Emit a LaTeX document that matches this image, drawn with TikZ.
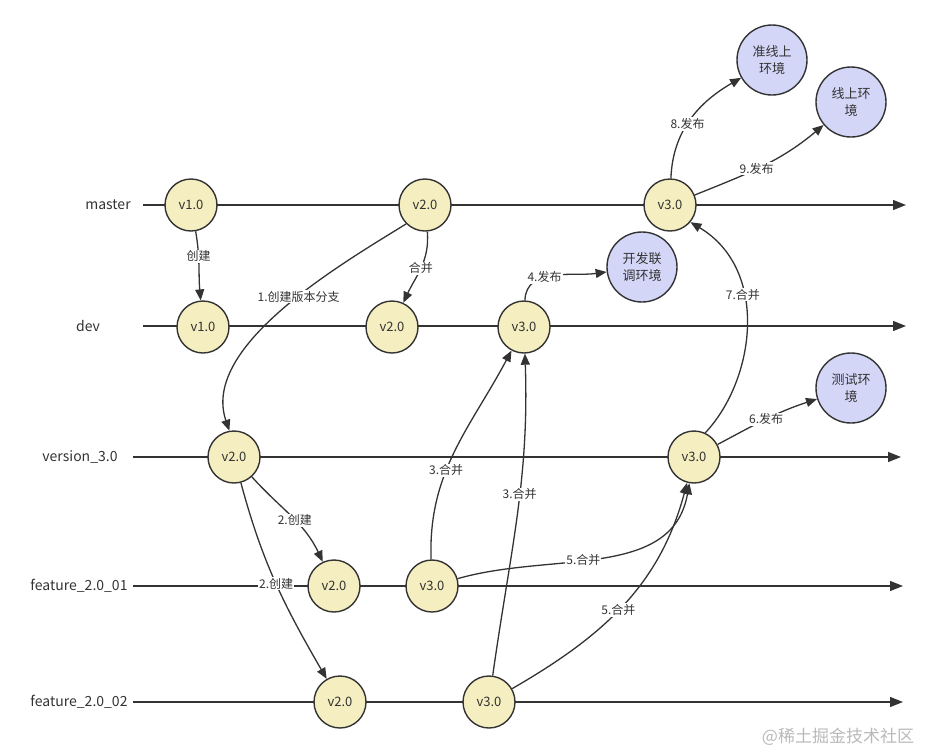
\documentclass[tikz,border=0pt]{standalone}
\usepackage{fontspec}
\setmainfont{Noto Sans CJK SC}
\usetikzlibrary{arrows.meta,positioning}
\definecolor{gitline}{HTML}{333333}
\definecolor{gityellow}{HTML}{F5EEC0}
\definecolor{gitblue}{HTML}{D4D6F8}

\begin{document}
\begin{tikzpicture}[x=1pt,y=1pt,line width=1.3pt,
      every node/.style={font=\fontsize{12}{14}\selectfont,text=gitline},
      ver/.style={circle,draw=gitline,fill=gityellow,minimum size=52pt,inner sep=0pt,line width=1.4pt,font=\fontsize{13}{15}\selectfont},
      env/.style={circle,draw=gitline,fill=gitblue,minimum size=70pt,inner sep=0pt,align=center,line width=1.4pt,font=\fontsize{13}{17}\selectfont},
      branch/.style={font=\fontsize{14}{16}\selectfont},
      trunk/.style={draw=gitline,-{Triangle[length=13pt,width=10pt]}},
      flow/.style={draw=gitline,-{Triangle[length=11pt,width=9pt]}},
      lbl/.style={fill=white,inner sep=1pt}]
    \useasboundingbox (0,0) rectangle (927,-753);
    % Branch names and time lines
    \node[branch] (lmaster) at (108,-205) {master};
    \node[branch] (ldev)    at (88,-326)  {dev};
    \node[branch] (lver)    at (80,-457)  {version\_3.0};
    \node[branch] (lfa)     at (79,-586)  {feature\_2.0\_01};
    \node[branch] (lfb)     at (79,-702)  {feature\_2.0\_02};
    \coordinate (ms) at (143,-205); \coordinate (me) at (906,-205);
    \coordinate (ds) at (143,-326); \coordinate (de) at (906,-326);
    \coordinate (vs) at (133,-457); \coordinate (ve) at (901,-457);
    \coordinate (as) at (133,-586); \coordinate (ae) at (903,-586);
    \coordinate (bs) at (133,-702); \coordinate (be) at (903,-702);
    \foreach \a/\b in {ms/me,ds/de,vs/ve,as/ae,bs/be}{\draw[trunk](\a)--(\b);}
    % Versions
    \node[ver] (m1) at (191,-205) {v1.0};
    \node[ver] (m2) at (425,-205) {v2.0};
    \node[ver] (m3) at (670,-205) {v3.0};
    \node[ver] (d1) at (203,-327) {v1.0};
    \node[ver] (d2) at (392,-327) {v2.0};
    \node[ver] (d3) at (524,-327) {v3.0};
    \node[ver] (v1) at (234,-457) {v2.0};
    \node[ver] (v2) at (694,-457) {v3.0};
    \node[ver] (a1) at (334,-586) {v2.0};
    \node[ver] (a2) at (432,-586) {v3.0};
    \node[ver] (b1) at (340,-702) {v2.0};
    \node[ver] (b2) at (489,-702) {v3.0};
    % Environments
    \node[env] (pre)    at (772,-60)  {准线上\\环境};
    \node[env] (prod)   at (851,-102) {线上环\\境};
    \node[env] (devenv) at (642,-267) {开发联\\调环境};
    \node[env] (test)   at (851,-388) {测试环\\境};
    % Flows
    \draw[flow] (m2.225) .. controls (345,-262) and (200,-345) .. node[lbl,pos=0.44]{1.创建版本分支} (v1.100);
    \foreach \a/\b/\o/\i/\t/\p in {
        m1/d1/-80/95/创建/0.35,
        m2/d2/-85/65/合并/0.5,
        v1/a1/-48/115/2.创建/0.55,
        v1/b1/-75/120/2.创建/0.5,
        a2/d3/92/-118/3.合并/0.4,
        b2/d3/82/-88/3.合并/0.57,
        d3/devenv/88/188/4.发布/0.4,
        a2/v2/16/-100/5.合并/0.43,
        b2/v2/30/-105/5.合并/0.47,
        v2/test/28/198/6.发布/0.5,
        m3/pre/88/-150/8.发布/0.45,
        m3/prod/22/-140/9.发布/0.45}{
      \draw[flow] (\a) to[out=\o,in=\i] node[lbl,pos=\p]{\t} (\b);}
    \draw[flow] (v2.65) .. controls (755,-380) and (770,-270) .. node[lbl,pos=0.63]{7.合并} (m3.-40);
    \node[text=gray!55,font=\fontsize{17}{19}\selectfont] (mark) at (838,-737) {@稀土掘金技术社区};
  \end{tikzpicture}
\end{document}
